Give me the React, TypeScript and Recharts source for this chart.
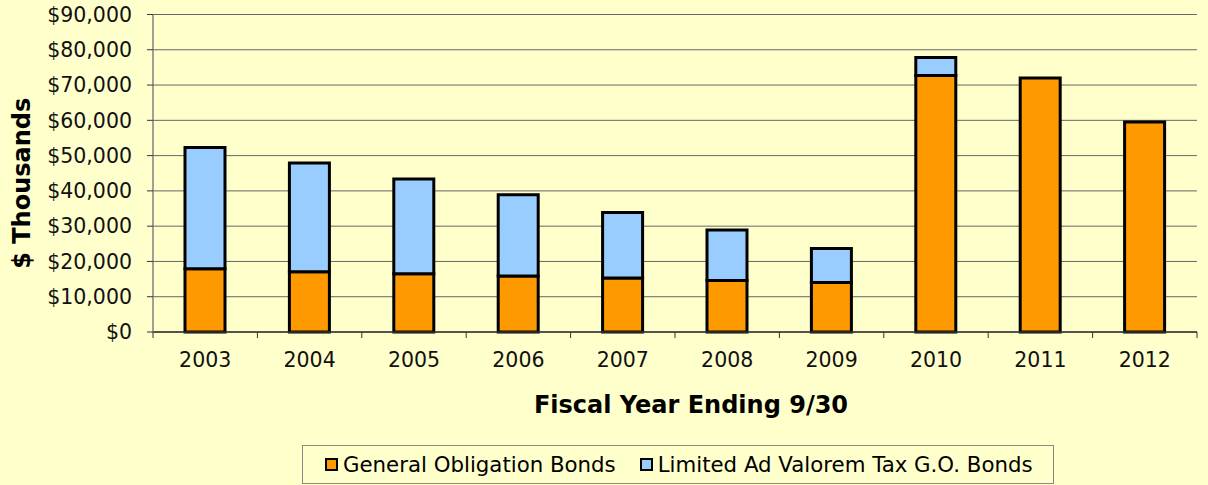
import { BarChart, Bar, XAxis, YAxis, CartesianGrid, Legend, Label } from "recharts";

const years = ["2003", "2004", "2005", "2006", "2007", "2008", "2009", "2010", "2011", "2012"];
// $ thousands
const generalObligation = [17900, 17100, 16500, 15900, 15300, 14600, 14000, 72700, 72000, 59500];
const limitedAdValorem = [34400, 30800, 26900, 23000, 18600, 14300, 9700, 5100, 0, 0];
const yTicks = [0, 10000, 20000, 30000, 40000, 50000, 60000, 70000, 80000, 90000];

const data = years.map((year, i) => ({
  year,
  go: generalObligation[i],
  limited: limitedAdValorem[i],
}));

const W = 1208;
const H = 485;
const FONT = "'DejaVu Sans', Verdana, sans-serif";
const Y_AXIS_W = 153;
const MARGIN = { top: 14.5, right: 11, left: 0, bottom: 14 };
const BAND = (W - Y_AXIS_W - MARGIN.right) / years.length;

const money = (v: number) => "$" + v.toLocaleString("en-US");

function YearTick(props: any) {
  const { x, y, payload, index } = props;
  return (
    <g>
      {index === 0 && (
        <line x1={x - BAND / 2} x2={x - BAND / 2} y1={y} y2={y + 6} stroke="#333" />
      )}
      <line x1={x + BAND / 2} x2={x + BAND / 2} y1={y} y2={y + 6} stroke="#333" />
      <text x={x} y={y + 34.7} textAnchor="middle" fontSize={20.5} fill="#111" fontFamily={FONT}>
        {payload.value}
      </text>
    </g>
  );
}

function XTitle(props: any) {
  const vb = props.viewBox;
  return (
    <text
      x={vb.x + vb.width / 2 + 16}
      y={vb.y + 81}
      textAnchor="middle"
      fontSize={24}
      fontWeight="bold"
      fill="#000"
      fontFamily={FONT}
    >
      Fiscal Year Ending 9/30
    </text>
  );
}

function YTitle(props: any) {
  const vb = props.viewBox;
  const cx = 22;
  const cy = vb.y + vb.height / 2 + 10;
  return (
    <text
      x={cx}
      y={cy}
      transform={`rotate(-90 ${cx} ${cy})`}
      textAnchor="middle"
      dominantBaseline="central"
      fontSize={24}
      fontWeight="bold"
      fill="#000"
      fontFamily={FONT}
    >
      $ Thousands
    </text>
  );
}

function LegendBox(props: any) {
  const items = props.payload ?? [];
  return (
    <div
      style={{
        boxSizing: "border-box",
        width: 752,
        height: 39,
        border: "1px solid #888",
        display: "flex",
        alignItems: "center",
        paddingLeft: 22,
        fontFamily: FONT,
        fontSize: 21.3,
        color: "#000",
        whiteSpace: "nowrap",
      }}
    >
      {items.map((it: any) => (
        <span key={it.value} style={{ display: "flex", alignItems: "center", marginRight: 24 }}>
          <span
            style={{
              boxSizing: "border-box",
              width: 13,
              height: 13,
              border: "2px solid #000",
              background: it.color,
              marginRight: 5,
            }}
          />
          {it.value}
        </span>
      ))}
    </div>
  );
}

export default function App() {
  return (
    <div style={{ position: "absolute", left: 0, top: 0, width: W, height: H, background: "#FFFFCC" }}>
      <BarChart width={W} height={H} data={data} margin={MARGIN} barSize={40}>
        <CartesianGrid vertical={false} stroke="#666" />
        <XAxis
          dataKey="year"
          height={100}
          tickSize={0}
          tickMargin={0}
          tickLine={false}
          axisLine={{ stroke: "#333", strokeWidth: 1.5 }}
          tick={<YearTick />}
          interval={0}
        >
          <Label content={<XTitle />} />
        </XAxis>
        <XAxis xAxisId="top" orientation="top" height={0} tick={false} tickLine={false} axisLine={{ stroke: "#888", strokeWidth: 2 }} />
        <YAxis
          width={Y_AXIS_W}
          domain={[0, 90000]}
          ticks={yTicks}
          tickFormatter={money}
          tickSize={6}
          tickMargin={15}
          tickLine={{ stroke: "#333" }}
          axisLine={{ stroke: "#808080", strokeWidth: 1.5 }}
          tick={{ fontSize: 20.5, fill: "#111", fontFamily: FONT }}
          interval={0}
        >
          <Label content={<YTitle />} />
        </YAxis>
        <YAxis yAxisId="right" orientation="right" width={0} tick={false} tickLine={false} axisLine={{ stroke: "#888", strokeWidth: 2.5 }} />
        <Legend content={<LegendBox />} wrapperStyle={{ left: 302, top: 445, width: 752 }} />
        <Bar dataKey="go" name="General Obligation Bonds" stackId="a" fill="#FF9900" stroke="#000" strokeWidth={3} isAnimationActive={false} />
        <Bar dataKey="limited" name="Limited Ad Valorem Tax G.O. Bonds" stackId="a" fill="#99CCFF" stroke="#000" strokeWidth={3} isAnimationActive={false} />
      </BarChart>
    </div>
  );
}
